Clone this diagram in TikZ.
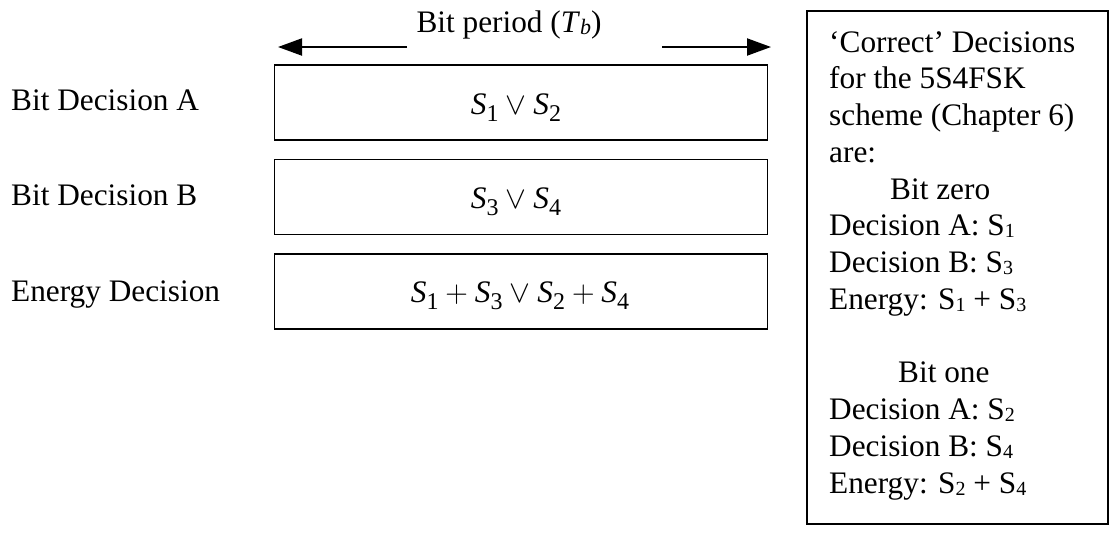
\RequirePackage{fix-cm}
\documentclass[tikz,border=0pt]{standalone}
\usepackage{fontspec}
\setmainfont{Liberation Serif}
\usetikzlibrary{arrows.meta}
\newcommand\Sm[1]{\mbox{\textit{S}\raisebox{-7pt}{\fontsize{24}{24}\selectfont #1}}}
\newcommand\Sr[1]{S\raisebox{-2pt}{\fontsize{20}{20}\selectfont #1}}
\tikzset{
  every node/.style={font=\fontsize{31.3}{36.75}\selectfont},
  label/.style={anchor=base west, inner sep=0pt},
  decbox/.style={draw, line width=1.6pt, minimum width=493pt, minimum height=75pt, inner sep=0pt},
  notebox/.style={draw, line width=1.6pt, inner sep=0pt},
  period/.style={line width=2pt, -{Triangle[length=24pt,width=17pt]}}
}
\begin{document}
\begin{tikzpicture}[x=1pt,y=-1pt]
\useasboundingbox (0,0) rectangle (1110,539);
% title and period arrows
\node[anchor=base, inner sep=0pt] (title) at (509,32) {Bit period (\textit{T}\raisebox{-2pt}{\fontsize{22}{22}\selectfont\textit{b}})};
\coordinate (lfrom) at (407,47);
\coordinate (lto) at (278,47);
\coordinate (rfrom) at (662,47);
\coordinate (rto) at (771,47);
\draw[period] (lfrom) -- (lto);
\draw[period] (rfrom) -- (rto);
% left labels
\node[label] (labA) at (11,110) {Bit Decision A};
\node[label] (labB) at (11,205) {Bit Decision B};
\node[label] (labE) at (11,301) {Energy Decision};
% decision boxes
\node[decbox] (boxA) at (521,102.5) {};
\node[decbox] (boxB) at (521,197) {};
\node[decbox] (boxE) at (521,291.5) {};
\node[anchor=base, inner sep=0pt] (txtA) at (516,114) {$\Sm{1}\vee\Sm{2}$};
\node[anchor=base, inner sep=0pt] (txtB) at (516,208) {$\Sm{3}\vee\Sm{4}$};
\node[anchor=base, inner sep=0pt] (txtE) at (520,302) {$\Sm{1}+\Sm{3}\vee\Sm{2}+\Sm{4}$};
% note box
\draw[notebox] (807,11) rectangle (1108,524);
\node[anchor=base west, inner sep=0pt] (note) at (829,52) {%
\begin{tabular}[t]{@{}l@{}}
`Correct' Decisions\\
for the 5S4FSK\\
scheme (Chapter 6)\\
are:\\
\hspace*{61pt}Bit zero\\
Decision A: \Sr{1}\\
Decision B: \Sr{3}\\
Energy: \Sr{1} + \Sr{3}\\
\\
\hspace*{69pt}Bit one\\
Decision A: \Sr{2}\\
Decision B: \Sr{4}\\
Energy: \Sr{2} + \Sr{4}
\end{tabular}};
\end{tikzpicture}
\end{document}
